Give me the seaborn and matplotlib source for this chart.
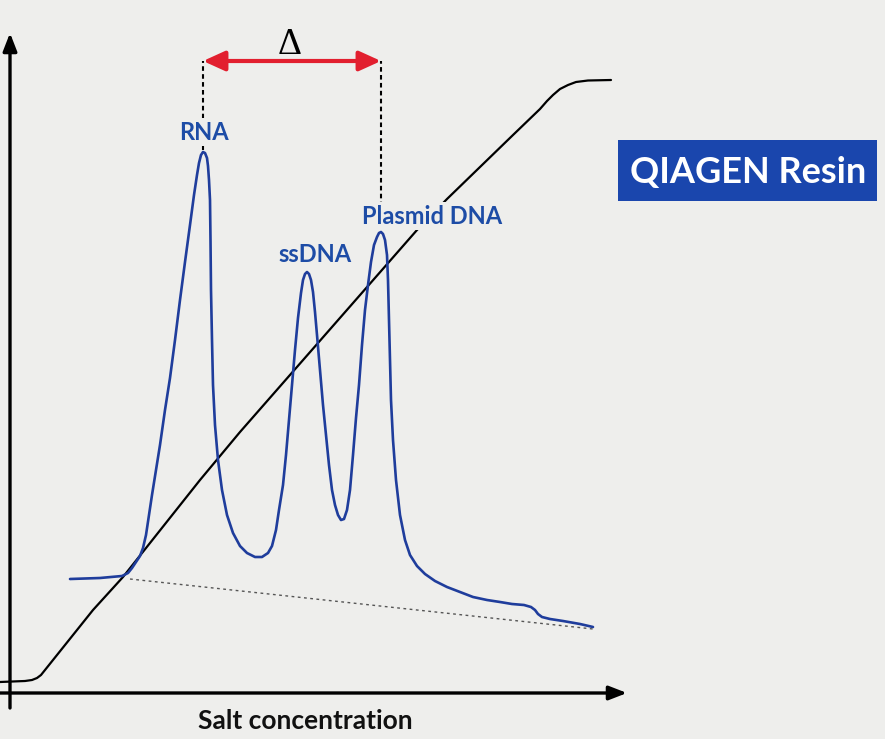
import numpy as np
import pandas as pd
import matplotlib
matplotlib.use("Agg")
import matplotlib.pyplot as plt
from matplotlib.patches import Rectangle
import seaborn as sns

# ---- data (salt concentration axis = x, absorbance = y, arbitrary units) ----
elution_x = [60, 90, 112, 118, 122, 126, 130, 133, 136, 139, 142, 146, 150, 155,
             160, 165, 170, 175, 180, 184, 187, 189, 191, 193, 195, 197, 198,
             199, 200, 200.5, 201, 202, 203, 205, 208, 212, 217, 223, 230, 237,
             245, 252, 258, 262, 266, 269, 273, 276, 279, 282, 285, 288, 291,
             293, 295, 297, 299, 301, 303, 305, 307, 310, 313, 316, 319, 322,
             325, 328, 331, 334, 337, 340, 343, 346, 349, 352, 355, 358, 361,
             364, 367, 369, 371, 373, 375, 377, 378, 379, 380, 381, 383, 386,
             390, 395, 400, 407, 415, 425, 437, 450, 463, 477, 490, 502, 514,
             521, 525, 528, 532, 540, 553, 570, 583]
elution_y = [116, 117, 119, 122, 127, 133, 139, 147, 160, 180, 200, 225, 250, 285,
             317, 355, 395, 433, 470, 500, 520, 532, 540, 543, 542, 537, 529,
             515, 495, 455, 405, 355, 310, 270, 235, 205, 180, 162, 149, 142,
             138, 138, 142, 149, 165, 185, 210, 240, 275, 310, 345, 377, 402,
             415, 421, 423, 421, 415, 403, 383, 360, 325, 290, 260, 230, 205,
             190, 180, 175, 176, 185, 205, 240, 277, 310, 350, 385, 410, 433,
             450, 458, 462, 463, 461, 455, 440, 415, 375, 335, 295, 255, 215,
             180, 155, 140, 129, 121, 114, 108, 103, 98, 95, 93, 91, 90,
             88, 85, 81, 78, 76, 74, 71, 68]

gradient_x = [-10, 15, 22, 27, 31, 35, 83, 113, 190, 230, 407, 437, 503, 530,
              537, 543, 550, 558, 566, 578, 601]
gradient_y = [13, 14, 15, 17, 20, 25, 85, 118, 215, 263, 465, 496, 560, 586,
              594, 600, 606, 610, 613, 614.5, 615]

baseline_x = [120, 583]
baseline_y = [116, 66]

peak_names = ["RNA", "ssDNA", "Plasmid DNA"]
peak_x = [193, 297, 371]
peak_y = [543, 423, 463]
label_x = [194, 305, 422]
label_y = [563, 441, 479]

delta_y = 634          # level of the Δ arrow
x_label = "Salt concentration"
resin_label = "QIAGEN Resin"

# ---- style ----
sns.set_theme(style="white")
bg = "#eeeeec"
plt.rcParams["font.family"] = ["Lato", "DejaVu Sans"]
blue_line = "#1f3d9c"
blue_text = "#1d4ca6"
box_blue = "#1a46ad"
red = "#e21f2f"

fig = plt.figure(figsize=(8.85, 7.39), dpi=100, facecolor=bg)
ax = fig.add_axes([0, 0, 1, 1])
ax.set_facecolor(bg)
ax.set_xlim(-10, 875)
ax.set_ylim(-44, 695)
ax.axis("off")

# axes with arrow heads
ax.annotate("", xy=(617, 2), xytext=(-10, 2),
            arrowprops=dict(arrowstyle="-|>,head_length=0.9,head_width=0.35",
                            color="black", lw=2.4, shrinkA=0, shrinkB=0))
ax.annotate("", xy=(0, 662), xytext=(0, -13),
            arrowprops=dict(arrowstyle="-|>,head_length=0.9,head_width=0.35",
                            color="black", lw=2.4, shrinkA=0, shrinkB=0))

# dotted baseline
sns.lineplot(x=baseline_x, y=baseline_y, ax=ax, color="#555555", lw=1.0,
             linestyle=(0, (2, 2.5)), sort=False, estimator=None)

# salt gradient
sns.lineplot(x=gradient_x, y=gradient_y, ax=ax, color="black", lw=1.6,
             sort=False, estimator=None)

# chromatogram
df = pd.DataFrame({"x": elution_x, "y": elution_y})
sns.lineplot(data=df, x="x", y="y", ax=ax, color=blue_line, lw=1.9,
             sort=False, estimator=None)
for l in ax.lines:
    l.set_solid_joinstyle("round")
    l.set_solid_capstyle("round")

# dashed guides from RNA and plasmid peaks
for i in (0, 2):
    ax.plot([peak_x[i], peak_x[i]], [peak_y[i] + 2, delta_y], color="black",
            lw=1.5, linestyle=(0, (2.2, 1.6)), zorder=1)

# red double arrow
ax.annotate("", xy=(peak_x[2], delta_y), xytext=(peak_x[0], delta_y),
            arrowprops=dict(arrowstyle="<|-|>,head_length=1.1,head_width=0.5",
                            color=red, lw=3.0, shrinkA=0, shrinkB=0))
ax.text((peak_x[0] + peak_x[2]) / 2 - 2, delta_y + 16, "Δ",
        family=["Liberation Serif", "DejaVu Serif"], fontsize=27,
        ha="center", va="center", color="black")

# peak labels
for name, lx, ly in zip(peak_names, label_x, label_y):
    ax.text(lx, ly, name, color=blue_text, fontsize=17, fontweight="bold",
            ha="center", va="center", zorder=5,
            bbox=dict(boxstyle="square,pad=0.12", fc=bg, ec="none"))

# x label
ax.text(295, -26, x_label, fontsize=19, fontweight="bold", color="#111111",
        ha="center", va="center")

# QIAGEN Resin box
ax.add_patch(Rectangle((608, 494), 259, 61, facecolor=box_blue,
                       edgecolor="none", zorder=4))
ax.text(738, 523, resin_label, fontsize=26, fontweight="bold", color="white",
        ha="center", va="center", zorder=5)

fig.savefig("out.png", dpi=100, facecolor=bg)
